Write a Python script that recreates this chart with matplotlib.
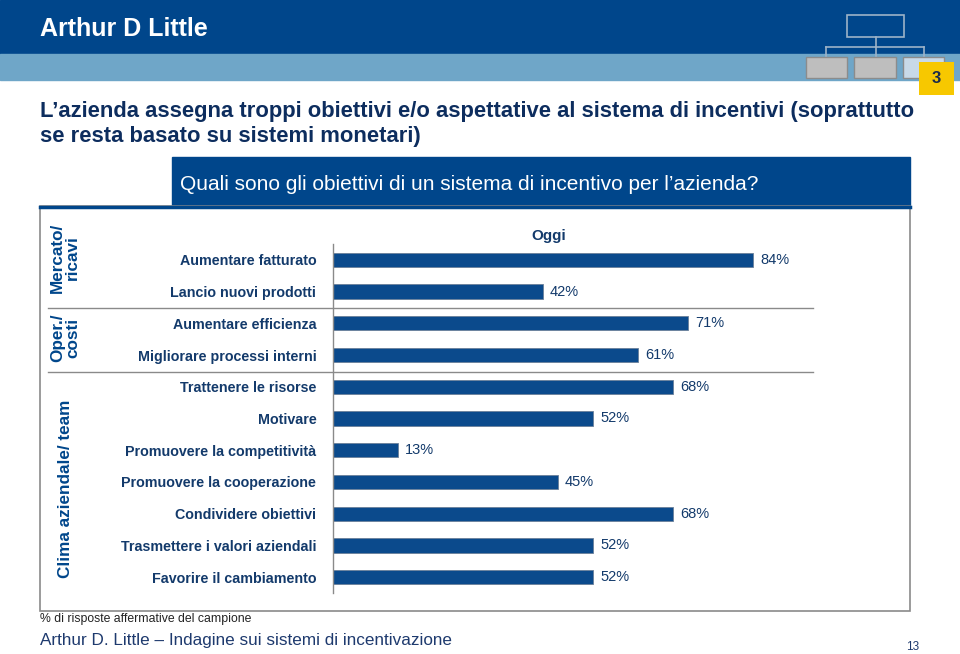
import matplotlib
matplotlib.use("Agg")
import matplotlib.pyplot as plt
from matplotlib.patches import Rectangle

plt.rcParams['font.family'] = ['Liberation Sans', 'DejaVu Sans']

categories = ["Aumentare fatturato", "Lancio nuovi prodotti",
              "Aumentare efficienza", "Migliorare processi interni",
              "Trattenere le risorse", "Motivare", "Promuovere la competitività",
              "Promuovere la cooperazione", "Condividere obiettivi",
              "Trasmettere i valori aziendali", "Favorire il cambiamento"]
values = [84, 42, 71, 61, 68, 52, 13, 45, 68, 52, 52]
groups = ["Mercato/\nricavi", "Oper./\ncosti", "Clima aziendale/ team"]

title = ("L\u2019azienda assegna troppi obiettivi e/o aspettative al sistema di incentivi (soprattutto\n"
         "se resta basato su sistemi monetari)")
subtitle = "Quali sono gli obiettivi di un sistema di incentivo per l\u2019azienda?"
series_name = "Oggi"
footnote = "% di risposte affermative del campione"
source = "Arthur D. Little \u2013 Indagine sui sistemi di incentivazione"

W, H = 960, 654
NAVY = "#00468B"
BAR = "#0B4A8C"
TXT = "#133A6B"
LIGHT = "#6FA6C8"

fig = plt.figure(figsize=(W/100, H/100), dpi=100)
bg = fig.add_axes([0, 0, 1, 1])
bg.set_xlim(0, W)
bg.set_ylim(H, 0)
bg.axis("off")

# header bands
bg.add_patch(Rectangle((0, 0), W, 54, color=NAVY, zorder=1))
bg.add_patch(Rectangle((0, 54), W, 26, color=LIGHT, zorder=1))
bg.text(40, 29, "Arthur D Little", color="white", fontsize=18, fontweight="bold",
        family=["Liberation Sans Narrow", "Liberation Sans"], va="center", ha="left", zorder=3)
# org icon
bg.add_patch(Rectangle((847, 15), 57, 22, fill=False, ec="#9DB3C8", lw=1.2, zorder=3))
bg.plot([875.5, 875.5], [37, 47], color="#9DB3C8", lw=1.2, zorder=3)
bg.plot([826, 924], [47, 47], color="#9DB3C8", lw=1.2, zorder=3)
for x0 in (826, 875.5, 924):
    bg.plot([x0, x0], [47, 57], color="#9DB3C8", lw=1.2, zorder=3)
bg.add_patch(Rectangle((806, 57), 41, 21, fc="#BEBEBE", ec="#8C8C8C", lw=1, zorder=3))
bg.add_patch(Rectangle((854, 57), 42, 21, fc="#BEBEBE", ec="#8C8C8C", lw=1, zorder=3))
bg.add_patch(Rectangle((903, 57), 41, 21, fc="#C8D9E8", ec="#8C8C8C", lw=1, zorder=3))
bg.add_patch(Rectangle((919, 62), 35, 33, fc="#F7C800", ec="none", zorder=4))
bg.text(936.5, 78.5, "3", fontsize=12, fontweight="bold", color="#1A2A4A", ha="center", va="center", zorder=5)

# title
bg.text(40, 124, title, fontsize=15.8, fontweight="bold", color="#0D2D5E",
        ha="left", va="center", linespacing=1.3, zorder=3)

# subtitle box
bg.add_patch(Rectangle((172, 157), 738, 50, color=NAVY, zorder=2))
bg.text(180, 184, subtitle, fontsize=15, color="white", ha="left", va="center", zorder=3)
# main frame
bg.add_patch(Rectangle((40, 206), 870, 405, fill=False, ec="#8A8A8A", lw=1.2, zorder=2))
bg.plot([40, 910], [206.5, 206.5], color=NAVY, lw=2.5, zorder=3)

# separators
for ys in (308, 372):
    bg.plot([48, 813], [ys, ys], color="#8A8A8A", lw=1, zorder=3)

# group labels
bg.text(65, 258, groups[0], rotation=90, fontsize=12.3, fontweight="bold", color=NAVY,
        ha="center", va="center", multialignment="center", linespacing=1.0, zorder=3)
bg.text(65, 338, groups[1], rotation=90, fontsize=12.3, fontweight="bold", color=NAVY,
        ha="center", va="center", multialignment="center", linespacing=1.0, zorder=3)
bg.text(65, 489, groups[2], rotation=90, fontsize=12.3, fontweight="bold", color=NAVY,
        ha="center", va="center", zorder=3)

bg.text(549, 236, series_name, fontsize=11, fontweight="bold", color=TXT, ha="center", va="center", zorder=3)

# footer
bg.text(40, 619, footnote, fontsize=8.8, color="#222222", ha="left", va="center")
bg.text(40, 641, source, fontsize=12.3, color="#1E3A6E", ha="left", va="center")
bg.text(913, 647, "13", fontsize=8.5, color="#1E3A6E", ha="center", va="center")

# bar axes
left_px, right_px = 333, 833
top_px, bot_px = 244, 593
ax = fig.add_axes([left_px/W, 1 - bot_px/H, (right_px-left_px)/W, (bot_px-top_px)/H])
ax.patch.set_alpha(0)
n = len(categories)
ypos = list(range(n))
ax.barh(ypos, values, height=0.45, color=BAR, edgecolor="#6A7F99", linewidth=0.6)
ax.set_xlim(0, 100)
ax.set_ylim(n - 0.5, -0.5)
ax.set_yticks(ypos)
ax.set_yticklabels(categories, fontsize=10.3, fontweight="bold", color=TXT)
ax.tick_params(axis="y", length=0, pad=12)
ax.set_xticks([])
for s in ("top", "right", "bottom"):
    ax.spines[s].set_visible(False)
ax.spines["left"].set_color("#8A8A8A")
ax.spines["left"].set_linewidth(1)
for yv, v in zip(ypos, values):
    ax.text(v + 1.4, yv, f"{v}%", fontsize=10.5, color=TXT, ha="left", va="center")

fig.savefig("out.png", dpi=100)
